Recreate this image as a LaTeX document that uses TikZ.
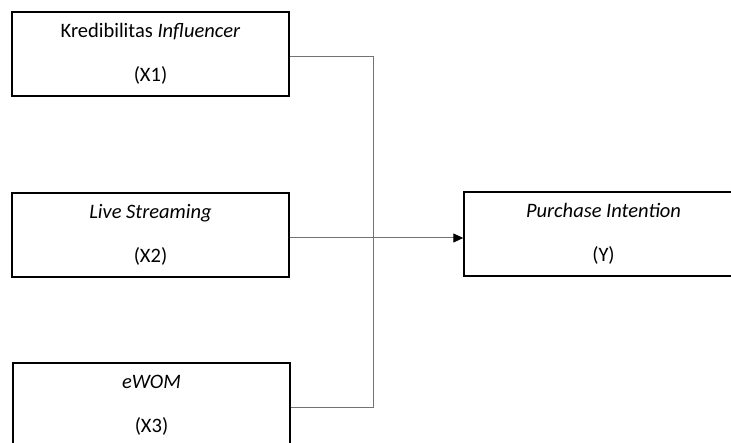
\documentclass[tikz,border=0pt]{standalone}
\usepackage{fontspec}
\setmainfont{Carlito}
\usetikzlibrary{arrows.meta}
\tikzset{
  varbox/.style={rectangle, draw=black, line width=1.5pt, minimum width=277pt,
    minimum height=84pt, align=center, inner sep=0pt, font=\fontsize{20.5}{44}\selectfont},
  link/.style={draw=black!55, line width=1pt}
}
\begin{document}
\begin{tikzpicture}[x=1pt, y=-1pt]
      \useasboundingbox (0,0) rectangle (731,443);
      \clip (0,0) rectangle (731,443);

      \node[varbox](X1) at (150.5, 54.0){Kredibilitas \textit{Influencer}\\(X1)};
      \node[varbox](X2) at (150.5,235.0){\textit{Live Streaming}\\(X2)};
      \node[varbox](X3) at (151.5,405.0){\textit{eWOM}\\(X3)};
      \node[varbox, minimum width=279pt](Y) at (603.5,234.0){\textit{Purchase Intention}\\(Y)};
      \coordinate (J) at (373,238);

      \draw[link] ([yshift=-3pt]X1.east) -| (J);
      \draw[link] ([yshift=-3pt]X3.east) -| (J);
      \draw[link, -{Triangle[length=10pt, width=9pt, color=black]}] ([yshift=-3pt]X2.east) -- (Y.west |- J);
    \end{tikzpicture}
\end{document}
